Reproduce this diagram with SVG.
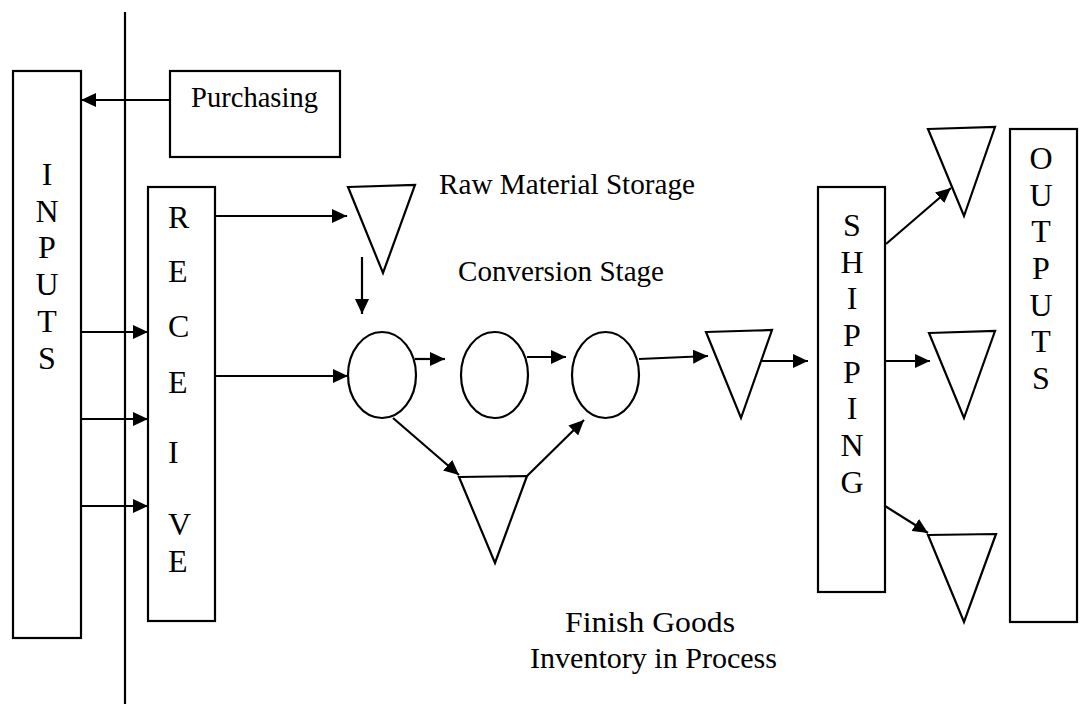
<svg xmlns="http://www.w3.org/2000/svg" width="1089" height="704" viewBox="0 0 1089 704">
<defs>
<marker id="ah" markerUnits="userSpaceOnUse" markerWidth="16" markerHeight="14" refX="15" refY="7" orient="auto">
<path d="M0,0 L15,7 L0,14 z" fill="#000"/>
</marker>
<style>
.box{fill:#fff;stroke:#000;stroke-width:2.2}
.shape{fill:#fff;stroke:#000;stroke-width:2.2}
.ln{fill:none;stroke:#000;stroke-width:2.2}
.arr{fill:none;stroke:#000;stroke-width:2.2;marker-end:url(#ah)}
text{font-family:'Liberation Serif','Times New Roman','DejaVu Serif',serif;fill:#000}
.t{font-size:30px}
.v{font-size:32px}
</style>
</defs>
<rect width="1089" height="704" fill="#fff"/>
<line class="ln" x1="125" y1="12" x2="125" y2="704"/>
<g id="inputs">
<rect class="box" x="13" y="71" width="68" height="567"/>
<g class="v" text-anchor="middle" font-family="Liberation Serif, Times New Roman, serif">
<text x="47" y="185">I</text><text x="47" y="222">N</text><text x="47" y="258">P</text><text x="47" y="295">U</text><text x="47" y="332">T</text><text x="47" y="369">S</text>
</g>
</g>
<g id="purchasing">
<rect class="box" x="170" y="71" width="170" height="86"/>
<text class="t" x="191" y="107" textLength="127" lengthAdjust="spacingAndGlyphs">Purchasing</text>
</g>
<g id="receive">
<rect class="box" x="148" y="187" width="67" height="434"/>
<g class="v">
<text x="168" y="228">R</text><text x="168" y="282">E</text><text x="168" y="337">C</text><text x="168" y="393">E</text><text x="168" y="463">I</text><text x="168" y="535">V</text><text x="168" y="572">E</text>
</g>
</g>
<g id="raw-storage">
<polygon class="shape" points="348,187 415,185 383,273"/>
<text class="t" x="439" y="194" textLength="256" lengthAdjust="spacingAndGlyphs">Raw Material Storage</text>
</g>
<g id="conversion-label"><text class="t" x="458" y="281" textLength="206" lengthAdjust="spacingAndGlyphs">Conversion Stage</text></g>
<g id="op1"><ellipse class="shape" cx="382" cy="375" rx="34" ry="43"/></g>
<g id="op2"><ellipse class="shape" cx="494.5" cy="375" rx="33.5" ry="43"/></g>
<g id="op3"><ellipse class="shape" cx="605.5" cy="375" rx="33.5" ry="43"/></g>
<g id="wip-storage"><polygon class="shape" points="459,477 527,476 495,563"/></g>
<g id="fg-storage"><polygon class="shape" points="706,332 772,330 741,418"/></g>
<g id="shipping">
<rect class="box" x="818" y="187" width="67" height="405"/>
<g class="v" text-anchor="middle">
<text x="852" y="236">S</text><text x="852" y="273">H</text><text x="852" y="309">I</text><text x="852" y="346">P</text><text x="852" y="383">P</text><text x="852" y="419">I</text><text x="852" y="456">N</text><text x="852" y="493">G</text>
</g>
</g>
<g id="out-tri-1"><polygon class="shape" points="928,129 995,127 964,216"/></g>
<g id="out-tri-2"><polygon class="shape" points="929,333 995,331 964,418"/></g>
<g id="out-tri-3"><polygon class="shape" points="928,535 996,534 964,622"/></g>
<g id="outputs">
<rect class="box" x="1010" y="129" width="67" height="493"/>
<g class="v" text-anchor="middle">
<text x="1041" y="169">O</text><text x="1041" y="206">U</text><text x="1041" y="242">T</text><text x="1041" y="279">P</text><text x="1041" y="316">U</text><text x="1041" y="352">T</text><text x="1041" y="389">S</text>
</g>
</g>
<g id="fg-label">
<text class="t" x="565" y="632" textLength="170" lengthAdjust="spacingAndGlyphs">Finish Goods</text>
<text class="t" x="530" y="668" textLength="247" lengthAdjust="spacingAndGlyphs">Inventory in Process</text>
</g>
<g id="connectors">
<line class="arr" x1="170" y1="100" x2="81" y2="100"/>
<line class="arr" x1="81" y1="332" x2="148" y2="332"/>
<line class="arr" x1="81" y1="419" x2="148" y2="419"/>
<line class="arr" x1="81" y1="506" x2="148" y2="506"/>
<line class="arr" x1="215" y1="216" x2="347" y2="216"/>
<line class="arr" x1="362" y1="257" x2="362" y2="314"/>
<line class="arr" x1="215" y1="376" x2="348" y2="376"/>
<line class="arr" x1="415" y1="359" x2="445" y2="359"/>
<line class="arr" x1="527" y1="357" x2="566" y2="357"/>
<line class="arr" x1="639" y1="359" x2="708" y2="356"/>
<line class="arr" x1="762" y1="361" x2="808" y2="361"/>
<line class="arr" x1="393" y1="418" x2="459" y2="475"/>
<line class="arr" x1="527" y1="476" x2="584" y2="420"/>
<line class="arr" x1="886" y1="244" x2="951" y2="188"/>
<line class="arr" x1="885" y1="361" x2="930" y2="361"/>
<line class="arr" x1="885" y1="506" x2="928" y2="533"/>
</g>
</svg>
